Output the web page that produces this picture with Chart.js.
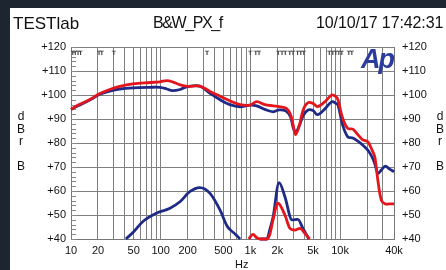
<!DOCTYPE html>
<html>
<head>
<meta charset="utf-8">
<script src="https://cdn.jsdelivr.net/npm/chart.js@4/dist/chart.umd.min.js"></script>
<style>
    html, body { margin: 0; padding: 0; width: 446px; height: 270px; overflow: hidden; background: #1d2630; font-family: "Liberation Sans", Arial, sans-serif; }
    #panel { position: absolute; left: 10px; top: 8px; width: 436px; height: 262px; background: #fff; overflow: hidden; }
    #chart { position: absolute; left: 0; top: 0; }
    .txt { position: absolute; color: #111; white-space: pre; }
</style>
</head>
<body>
<div id="panel">
    <canvas id="chart" width="436" height="258"></canvas>
    <div class="txt" style="left:3px; top:6px; font-size:17px;">TESTlab</div>
    <div class="txt" style="left:143px; top:6px; font-size:16px; letter-spacing:-1.4px;">B&amp;W_PX_f</div>
    <div class="txt" style="left:306px; top:6px; font-size:16px; letter-spacing:-0.1px;">10/10/17 17:42:31</div>
    <div class="txt" style="left:7px; top:102px; font-size:12px; line-height:12.5px; text-align:center;">d
B
r

B</div>
    <div class="txt" style="left:426px; top:102px; font-size:12px; line-height:12.5px; text-align:center;">d
B
r

B</div>
    <div class="txt" style="left:225px; top:250px; font-size:11px;">Hz</div>
    <div class="txt" style="left:351px; top:36px; font-size:27px; font-weight:bold; font-style:italic; color:#2b3c9c; letter-spacing:-2px;">Ap</div>
</div>
<script>
    // frequency response, both channels (Hz / dBr)
    const freqUpper = [10, 12, 16, 21, 27, 35, 49, 76, 98, 117, 135, 165, 200, 273, 355, 460, 590, 770, 990, 1180, 1450, 1800, 2100, 2500, 2800, 3000, 3200, 3500, 3900, 4400, 5000, 5600, 6700, 8100, 9000, 9500, 10700, 12200, 13900, 15800, 17900, 20400, 22500, 24400, 26400, 29000, 32000, 35400, 40000];
    const redUpper  = [94.0, 95.8, 98.0, 100.6, 102.3, 103.6, 104.6, 105.2, 105.5, 106.0, 105.5, 104.2, 103.6, 103.7, 101.5, 99.5, 97.6, 96.0, 95.8, 97.2, 96.0, 95.5, 95.2, 94.5, 92.0, 87.5, 83.5, 87.0, 94.0, 96.8, 96.5, 95.2, 97.0, 100.0, 99.3, 97.9, 90.3, 86.1, 85.8, 83.5, 81.3, 80.5, 77.5, 74.3, 64.6, 56.0, 54.6, 54.6, 54.6];
    const blueUpper = [94.0, 95.5, 97.8, 100.3, 101.6, 102.5, 103.0, 103.2, 103.2, 102.5, 101.8, 102.3, 103.5, 103.7, 100.7, 98.0, 96.0, 95.1, 95.8, 95.5, 94.0, 93.0, 93.8, 93.3, 91.0, 86.5, 84.5, 87.0, 91.5, 93.8, 93.5, 91.8, 94.0, 97.2, 96.5, 95.8, 87.5, 82.6, 82.1, 80.8, 79.2, 77.0, 74.5, 71.5, 67.4, 68.8, 70.4, 69.2, 68.0];

    // distortion curves, lower part of the plot
    const freqBlueLow1 = [41, 50, 63, 93, 127, 164, 211, 273, 355, 460, 548, 590, 680, 770];
    const blueLow1     = [40, 43, 47.2, 51, 52.8, 55.5, 59.7, 61.4, 59, 52, 45.5, 44, 42, 40];
    const freqBlueLow2 = [1280, 1530, 1650, 1790, 2090, 2430, 2910, 3390, 3850, 4490];
    const blueLow2     = [40, 40, 44, 49, 63.5, 57.6, 48, 48.2, 44.5, 40];
    const freqRedLow   = [960, 1070, 1180, 1280, 1530, 1650, 1790, 2030, 2430, 2770, 3140, 3570, 4050, 4600];
    const redLow       = [40, 41.9, 40.5, 40, 40, 42, 48, 54.9, 50, 44.4, 43.75, 44.4, 42.4, 40];

    // axis ticks
    const xGridFreqs = [10, 20, 30, 40, 50, 60, 70, 80, 90, 100, 200, 300, 400, 500, 600, 700, 800, 900, 1000, 2000, 3000, 4000, 5000, 6000, 7000, 8000, 9000, 10000, 20000, 30000, 40000];
    const xTickLabels = { 10: '10', 20: '20', 50: '50', 100: '100', 200: '200', 500: '500', 1000: '1k', 2000: '2k', 5000: '5k', 10000: '10k', 40000: '40k' };
    const yMin = 40;
    const yMax = 120;

    // little "T" markers along the top edge
    const markerFreqs = [10.5, 11.2, 12, 12.8, 20.5, 22, 30, 330, 1000, 1150, 1250, 2050, 2250, 2450, 2750, 3000, 3350, 3650, 3950, 7600, 8300, 9000, 9700, 10500, 12500, 13500];

    const col_red = '#e3161d';
    const col_blue = '#1e2a86';

    function pts(xs, ys) {
        return xs.map((f, i) => ({ x: f, y: ys[i] }));
    }

    function lineSet(label, data, color, smooth) {
        let ds = {
            label: label,
            data: data,
            borderColor: color,
            borderWidth: 2.8,
            pointRadius: 0,
            fill: false,
            clip: 3,
        };
        if (smooth) {
            ds.tension = 0.35;
        } else {
            ds.cubicInterpolationMode = 'monotone';
        }
        return ds;
    }

    const extras = {
        id: 'extras',
        beforeDatasetsDraw(chart) {
            const ctx = chart.ctx;
            const ya = chart.scales.y;
            const xa = chart.scales.x;
            const area = chart.chartArea;
            ctx.save();
            // minor ticks on the left edge
            ctx.strokeStyle = '#888';
            ctx.lineWidth = 1;
            ctx.beginPath();
            for (let v = yMin; v <= yMax; v += 2) {
                const py = Math.round(ya.getPixelForValue(v)) + 0.5;
                ctx.moveTo(area.left, py);
                ctx.lineTo(area.left + 5, py);
            }
            ctx.stroke();
            // T markers
            ctx.fillStyle = '#444';
            ctx.font = 'bold 6px "DejaVu Sans"';
            ctx.textAlign = 'center';
            ctx.textBaseline = 'top';
            markerFreqs.forEach(f => {
                ctx.fillText('T', xa.getPixelForValue(f), area.top + 3);
            });
            ctx.restore();
        }
    };

    let chartCanvas = document.getElementById('chart').getContext('2d');
    let chartObject = new Chart(chartCanvas, {
        type: 'line',
        data: {
            datasets: [
                lineSet('red', pts(freqUpper, redUpper), col_red, true),
                lineSet('red dist', pts(freqRedLow, redLow), col_red, false),
                lineSet('blue', pts(freqUpper, blueUpper), col_blue, true),
                lineSet('blue dist 1', pts(freqBlueLow1, blueLow1), col_blue, false),
                lineSet('blue dist 2', pts(freqBlueLow2, blueLow2), col_blue, false),
            ],
        },
        options: {
            responsive: false,
            animation: false,
            devicePixelRatio: 1,
            layout: { padding: { top: 39, left: 0, right: 0, bottom: 0 } },
            plugins: { legend: { display: false }, tooltip: { enabled: false } },
            scales: {
                x: {
                    type: 'logarithmic',
                    position: 'bottom',
                    min: 10,
                    max: 40000,
                    afterBuildTicks: function(scale) {
                        scale.ticks = xGridFreqs.map(v => ({ value: v }));
                    },
                    afterFit: function(scale) { scale.height = 27; },
                    ticks: {
                        autoSkip: false,
                        maxRotation: 0,
                        padding: 5,
                        color: '#111',
                        font: { size: 11, family: '"Liberation Sans", Arial' },
                        callback: function(value) {
                            return xTickLabels[value] || '';
                        },
                    },
                    grid: { color: '#808080', drawTicks: false },
                    border: { color: '#777' },
                },
                y: {
                    position: 'left',
                    min: yMin,
                    max: yMax,
                    afterFit: function(scale) { scale.width = 61; },
                    ticks: {
                        stepSize: 10,
                        padding: 5,
                        color: '#111',
                        font: { size: 11, family: '"Liberation Sans", Arial' },
                        callback: function(tick) { return `+${tick}`; },
                    },
                    grid: { color: '#808080', drawTicks: false },
                    border: { color: '#777' },
                },
                y2: {
                    position: 'right',
                    min: yMin,
                    max: yMax,
                    afterFit: function(scale) { scale.width = 52; },
                    ticks: {
                        stepSize: 10,
                        padding: 8,
                        color: '#111',
                        font: { size: 11, family: '"Liberation Sans", Arial' },
                        callback: function(tick) { return `+${tick}`; },
                    },
                    grid: { display: false, drawTicks: false },
                    border: { color: '#777' },
                },
            },
        },
        plugins: [extras],
    });
</script>
</body>
</html>
